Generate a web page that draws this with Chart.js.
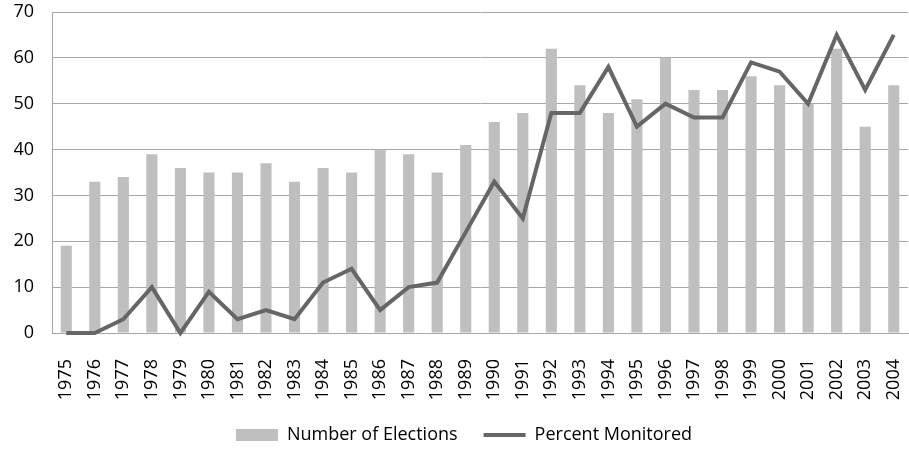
<!DOCTYPE html>
<html>
<head>
<meta charset="utf-8">
<script src="https://cdn.jsdelivr.net/npm/chart.js@4/dist/chart.umd.min.js"></script>
<style>
    html, body { margin: 0; padding: 0; background: #fff; }
    #wrap { width: 909px; height: 453px; position: relative; }
</style>
</head>
<body>
<div id="wrap"><canvas id="chart"></canvas></div>
<script>
// Years on the x axis
const years = ['1975', '1976', '1977', '1978', '1979', '1980', '1981', '1982', '1983', '1984',
    '1985', '1986', '1987', '1988', '1989', '1990', '1991', '1992', '1993', '1994',
    '1995', '1996', '1997', '1998', '1999', '2000', '2001', '2002', '2003', '2004'];

// Elections held per year (bars)
const electionCounts = [19, 33, 34, 39, 36, 35, 35, 37, 33, 36,
    35, 40, 39, 35, 41, 46, 48, 62, 54, 48,
    51, 60, 53, 53, 56, 54, 50, 62, 45, 54];

// Share of elections monitored (line)
const percentMonitored = [0, 0, 3, 10, 0, 9, 3, 5, 3, 11,
    14, 5, 10, 11, 22, 33, 25, 48, 48, 58,
    45, 50, 47, 47, 59, 57, 50, 65, 53, 65];

const yTicks = [0, 10, 20, 30, 40, 50, 60, 70];

const gridColor = '#a6a6a6';
Chart.defaults.font.family = '"Open Sans", sans-serif';
Chart.defaults.color = '#000';

// centre the legend under the plot area rather than the whole canvas
const legendShift = {
    id: 'legendShift',
    afterLayout(chart) {
        const lg = chart.legend;
        const dx = (chart.chartArea.left + chart.chartArea.right) / 2 - (lg.left + lg.right) / 2 - 16;
        lg.left += dx;
        lg.right += dx;
    }
};

const ctx = document.getElementById('chart').getContext('2d');

new Chart(ctx, {
    type: 'bar',
    data: {
        labels: years,
        datasets: [{
            label: 'Number of Elections',
            data: electionCounts,
            backgroundColor: '#bfbfbf',
            borderWidth: 0,
            categoryPercentage: 1,
            barPercentage: 0.39,
            order: 2
        }, {
            type: 'line',
            label: 'Percent Monitored',
            data: percentMonitored,
            borderColor: '#666666',
            backgroundColor: '#666666',
            borderWidth: 4,
            pointRadius: 0,
            tension: 0,
            clip: 4,
            order: 1
        }]
    },
    plugins: [legendShift],
    options: {
        responsive: true,
        maintainAspectRatio: false,
        animation: false,
        layout: { padding: { top: 12, right: 1, left: 0, bottom: 0 } },
        plugins: {
            tooltip: { enabled: false },
            legend: {
                position: 'bottom',
                maxHeight: 53,
                labels: {
                    usePointStyle: true,
                    pointStyleWidth: 42,
                    boxHeight: 12,
                    padding: 26,
                    font: { size: 18 },
                    sort: (a, b) => a.datasetIndex - b.datasetIndex,
                    generateLabels: (chart) => {
                        const items = Chart.defaults.plugins.legend.labels.generateLabels(chart);
                        items.forEach(item => {
                            if (item.datasetIndex === 0) {
                                item.pointStyle = 'rect';
                                item.lineWidth = 0;
                            } else {
                                item.pointStyle = 'line';
                                item.lineWidth = 4;
                                item.strokeStyle = '#666666';
                            }
                        });
                        return items;
                    }
                }
            }
        },
        scales: {
            x: {
                grid: { display: false, drawTicks: false },
                border: { display: true, color: gridColor, width: 1 },
                ticks: {
                    minRotation: 90,
                    maxRotation: 90,
                    autoSkip: false,
                    padding: 26,
                    font: { size: 18 }
                },
                afterFit: (scale) => {
                    scale.height = 67;
                    scale.paddingLeft = 0;
                    scale.paddingRight = 0;
                }
            },
            y: {
                min: 0,
                max: 70,
                afterBuildTicks: (scale) => {
                    scale.ticks = yTicks.map(v => ({ value: v }));
                },
                grid: { color: gridColor, lineWidth: 1, drawTicks: false },
                border: { display: true, color: gridColor, width: 1 },
                ticks: {
                    padding: 18,
                    font: { size: 18 }
                },
                afterFit: (scale) => {
                    scale.width = 52;
                    scale.paddingTop = 0;
                    scale.paddingBottom = 0;
                }
            }
        }
    }
});
</script>
</body>
</html>
